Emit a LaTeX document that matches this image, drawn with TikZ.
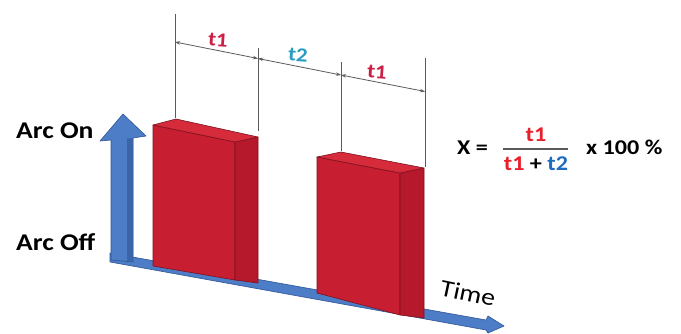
\documentclass[tikz,border=0pt]{standalone}
\usepackage{fontspec}
\setmainfont{Carlito}
\usetikzlibrary{arrows.meta}
\definecolor{blkfront}{HTML}{C81E32}
\definecolor{blkside}{HTML}{B5192B}
\definecolor{blktop}{HTML}{D52B3B}
\definecolor{blkedge}{HTML}{7E1220}
\definecolor{axisblue}{HTML}{4C7DC6}
\definecolor{axisdark}{HTML}{2F5596}
\definecolor{dimgray}{HTML}{5A5A5A}
\definecolor{lblred}{HTML}{CC1F48}
\definecolor{lblteal}{HTML}{2A9EC2}
\definecolor{fred}{HTML}{E8202A}
\definecolor{fblue}{HTML}{1E6CC0}
\newcommand\hstretch[1]{\scalebox{1.15}[1]{#1}}
\begin{document}
\begin{tikzpicture}[x=1pt,y=1pt,
  txt/.style={inner sep=0pt,font=\fontsize{24}{26}\selectfont\bfseries},
  ftxt/.style={inner sep=0pt,font=\fontsize{21}{23}\selectfont\bfseries},
  dimlbl/.style={inner sep=0pt,font=\fontsize{20}{22}\selectfont\bfseries},
  extline/.style={draw=dimgray,line width=0.8pt},
  dimline/.style={draw=dimgray,line width=0.8pt,{Stealth[length=5pt,width=3.5pt]}-{Stealth[length=5pt,width=3.5pt]}},
  face/.style={draw=blkedge,line width=0.6pt,line join=round}]
\useasboundingbox (0,0) rectangle (681,-333);
\fill[white] (0,0) rectangle (681,-333);

% time axis band
\coordinate (b1) at (110,-253);
\coordinate (b2) at (486,-320);
\coordinate (b3) at (486,-330);
\coordinate (b4) at (110,-262);
\coordinate (ah1) at (488,-316);
\coordinate (ahtip) at (504,-326);
\coordinate (ah2) at (488,-333);
\filldraw[fill=axisblue,draw=axisdark,line width=0.6pt,line join=round]
  (b1)--(b2)--(ah1)--(ahtip)--(ah2)--(b3)--(b4)--cycle;

% vertical arrow
\coordinate (s1) at (111,-260);
\coordinate (s2) at (111,-140);
\coordinate (h1) at (100,-141);
\coordinate (htip) at (123,-114);
\coordinate (h2) at (146,-136);
\coordinate (s3) at (133,-138);
\coordinate (s4) at (133,-262);
\filldraw[fill=axisblue,draw=axisdark,line width=0.6pt,line join=round]
  (s1)--(s2)--(h1)--(htip)--(h2)--(s3)--(s4)--cycle;
\fill[axisdark!60!axisblue] (127,-138.5)--(133,-138)--(133,-262)--(127,-261)--cycle;

% block 1
\coordinate (p1) at (153,-125);
\coordinate (p2) at (235,-142);
\coordinate (p3) at (235,-280);
\coordinate (p4) at (153,-266);
\coordinate (p5) at (258,-137);
\coordinate (p6) at (258,-283);
\coordinate (p7) at (176,-119);
\filldraw[face,fill=blkfront] (p1)--(p2)--(p3)--(p4)--cycle;
\filldraw[face,fill=blkside] (p2)--(p5)--(p6)--(p3)--cycle;
\filldraw[face,fill=blktop] (p1)--(p7)--(p5)--(p2)--cycle;

% block 2
\coordinate (q1) at (317,-157);
\coordinate (q2) at (400,-173);
\coordinate (q3) at (400,-315);
\coordinate (q4) at (317,-293);
\coordinate (q5) at (424,-168);
\coordinate (q6) at (424,-318);
\coordinate (q7) at (341,-152);
\filldraw[face,fill=blkfront] (q1)--(q2)--(q3)--(q4)--cycle;
\filldraw[face,fill=blkside] (q2)--(q5)--(q6)--(q3)--cycle;
\filldraw[face,fill=blktop] (q1)--(q7)--(q5)--(q2)--cycle;

% extension lines
\coordinate (e1t) at (175,-14);  \coordinate (e1b) at (175,-118);
\coordinate (e2t) at (258,-48);  \coordinate (e2b) at (258,-131);
\coordinate (e3t) at (341,-62);  \coordinate (e3b) at (341,-151);
\coordinate (e4t) at (425,-58);  \coordinate (e4b) at (425,-167);
\draw[extline] (e1t)--(e1b);
\draw[extline] (e2t)--(e2b);
\draw[extline] (e3t)--(e3b);
\draw[extline] (e4t)--(e4b);

% dimension line
\coordinate (d1) at (175,-42);
\coordinate (d2) at (258,-58.5);
\coordinate (d3) at (341,-75);
\coordinate (d4) at (425,-91.5);
\draw[dimline] (d1)--(d2);
\draw[dimline] (d2)--(d3);
\draw[dimline] (d3)--(d4);

\node[dimlbl,text=lblred,rotate=-4] (lt1) at (218,-40) {\hstretch{t1}};
\node[dimlbl,text=lblteal,rotate=-4] (lt2) at (298,-55) {\hstretch{t2}};
\node[dimlbl,text=lblred,rotate=-4] (lt3) at (377,-72) {\hstretch{t1}};

% axis labels
\node[txt,anchor=base west] (on) at (16,-138) {\hstretch{Arc On}};
\node[txt,anchor=base west] (off) at (16,-250) {\hstretch{Arc Off}};
\node[inner sep=0pt,font=\fontsize{24}{26}\selectfont,rotate=-12] (time) at (468,-293) {\hstretch{Time}};

% formula
\node[ftxt,anchor=base west] (fx) at (457,-154) {\hstretch{X =}};
\node[ftxt,anchor=base,text=fred] (fnum) at (536,-141) {\hstretch{t1}};
\coordinate (bar1) at (503,-149);
\coordinate (bar2) at (568,-149);
\draw[dimgray,line width=1.2pt] (bar1)--(bar2);
\node[ftxt,anchor=base] (fden) at (536,-170) {\hstretch{\textcolor{fred}{t1} + \textcolor{fblue}{t2}}};
\node[ftxt,anchor=base west] (fpct) at (586,-154) {\hstretch{x 100 \%}};
\end{tikzpicture}
\end{document}
